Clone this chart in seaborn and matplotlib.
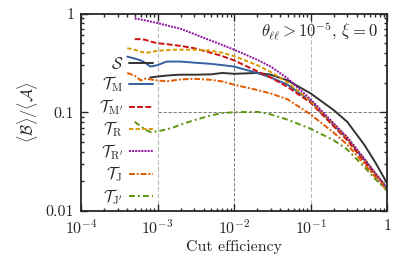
import numpy as np
import pandas as pd
import matplotlib
matplotlib.use("Agg")
import matplotlib.pyplot as plt
import seaborn as sns

nan = np.nan

# cut efficiency grid
eff = [4e-4, 5e-4, 6e-4, 7e-4, 8e-4, 1e-3, 1.3e-3, 1.6e-3, 2e-3, 3e-3, 5e-3, 7e-3,
       1e-2, 2e-2, 3e-2, 5e-2, 0.1, 0.2, 0.3, 0.5, 0.7, 1.0]

# <B>/<A> for each tagger
S   = [nan, nan, nan, nan, 0.225, 0.23, 0.235, 0.238, 0.24, 0.24, 0.242, 0.25,
       0.245, 0.25, 0.24, 0.21, 0.155, 0.105, 0.08, 0.047, 0.031, 0.019]
TM  = [0.366, 0.35, 0.335, 0.314, 0.29, 0.30, 0.326, 0.326, 0.326, 0.318, 0.309, 0.30,
       0.29, 0.25, 0.225, 0.19, 0.13, 0.074, 0.054, 0.033, 0.024, 0.017]
TMp = [nan, 0.55, 0.55, 0.54, 0.52, 0.50, 0.49, 0.48, 0.47, 0.445, 0.40, 0.37,
       0.335, 0.26, 0.225, 0.18, 0.125, 0.072, 0.052, 0.032, 0.023, 0.017]
TR  = [0.445, 0.43, 0.41, 0.40, 0.405, 0.42, 0.425, 0.43, 0.43, 0.43, 0.42, 0.40,
       0.37, 0.30, 0.255, 0.20, 0.13, 0.076, 0.055, 0.034, 0.024, 0.017]
TRp = [nan, 0.89, 0.87, 0.85, 0.83, 0.80, 0.76, 0.73, 0.70, 0.62, 0.53, 0.48,
       0.43, 0.34, 0.29, 0.22, 0.135, 0.077, 0.056, 0.034, 0.024, 0.017]
TJ  = [0.25, 0.235, 0.21, 0.22, 0.215, 0.21, 0.205, 0.21, 0.215, 0.218, 0.213, 0.205,
       0.19, 0.168, 0.155, 0.135, 0.095, 0.062, 0.047, 0.030, 0.022, 0.016]
TJp = [nan, 0.08, 0.072, 0.066, 0.063, 0.064, 0.067, 0.07, 0.075, 0.083, 0.093, 0.098,
       0.10, 0.101, 0.095, 0.084, 0.068, 0.052, 0.042, 0.028, 0.021, 0.016]

labels = [r"$\mathcal{S}$", r"$\mathcal{T}_\mathrm{M}$", r"$\mathcal{T}_{\mathrm{M}'}$",
          r"$\mathcal{T}_\mathrm{R}$", r"$\mathcal{T}_{\mathrm{R}'}$",
          r"$\mathcal{T}_\mathrm{J}$", r"$\mathcal{T}_{\mathrm{J}'}$"]
series = [S, TM, TMp, TR, TRp, TJ, TJp]

colors = ["#333333", "#3560a0", "#cc1111", "#d99a00", "#8e10a0", "#e05a00", "#5c9410"]
dashes = [(None, None), (None, None), (3, 1.2), (2.2, 1.2), (1, 0.6),
          (3, 1, 1, 1), (3, 1.6, 1, 1.6)]

sns.set_style("ticks")
plt.rcParams["font.family"] = "serif"
plt.rcParams["font.serif"] = ["cmr10", "DejaVu Serif"]
plt.rcParams["mathtext.fontset"] = "cm"
plt.rcParams["axes.formatter.use_mathtext"] = True
plt.rcParams["font.size"] = 11.5

fig = plt.figure(figsize=(4.08, 2.65), dpi=100)
ax = fig.add_axes([0.199, 0.204, 0.750, 0.745])

# guide lines
ax.axvline(1e-3, color="#bbbbbb", lw=0.8, ls=(0, (4, 2)), zorder=0)
ax.axvline(1e-2, color="#666666", lw=0.6, ls=(0, (4, 2)), zorder=0)
ax.axvline(1e-1, color="#bbbbbb", lw=0.8, ls=(0, (4, 2)), zorder=0)
ax.hlines(0.1, 1e-3, 1, color="#666666", lw=0.6, ls=(0, (4, 2)), zorder=0)

for y, lab, c, d in zip(series, labels, colors, dashes):
    df = pd.DataFrame({"eff": eff, "ratio": y}).dropna()
    sns.lineplot(data=df, x="eff", y="ratio", ax=ax, color=c, lw=1.4,
                 label=lab, sort=False)
    l = ax.get_lines()[-1]
    if d[0] is not None:
        l.set_dashes(d)

ax.set_xscale("log")
ax.set_yscale("log")
ax.set_xlim(1e-4, 1)
ax.set_ylim(0.01, 1)
ax.set_xticks([1e-4, 1e-3, 1e-2, 1e-1, 1])
ax.set_xticklabels([r"$10^{-4}$", r"$10^{-3}$", r"$10^{-2}$", r"$10^{-1}$", r"$1$"])
ax.set_yticks([0.01, 0.1, 1])
ax.set_yticklabels(["0.01", "0.1", "1"])
ax.tick_params(which="both", direction="in", top=True, right=True, width=1.0)
ax.tick_params(which="major", length=5, pad=5)
ax.tick_params(which="minor", length=2.5)
for s in ax.spines.values():
    s.set_linewidth(1.3)

ax.set_xlabel("Cut efficiency", fontsize=11.5, labelpad=3)
ax.set_ylabel(r"$\langle\mathcal{B}\rangle/\langle\mathcal{A}\rangle$", labelpad=4)

ax.text(0.97, 0.915, r"$\theta_{\ell\ell} > 10^{-5}$, $\xi = 0$",
        transform=ax.transAxes, ha="right", va="center", fontsize=12)

leg = ax.legend(loc="upper right", bbox_to_anchor=(0.235, 0.785), frameon=False,
                markerfirst=False, handlelength=1.5, handletextpad=0.4,
                labelspacing=0.17, borderaxespad=0, borderpad=0)

fig.savefig("out.png", dpi=100)
